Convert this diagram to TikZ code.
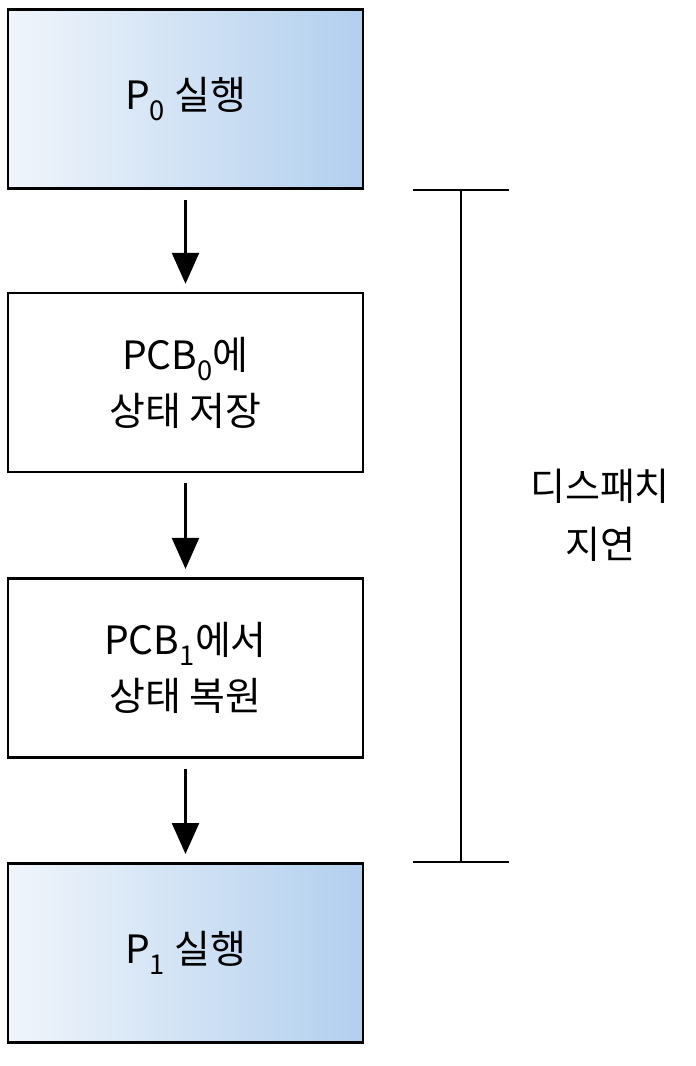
\documentclass[tikz,border=0pt]{standalone}
\usepackage{fontspec}
\setmainfont{Noto Sans CJK KR}
\usetikzlibrary{positioning,arrows.meta}

\definecolor{runleft}{HTML}{F0F5FB}
\definecolor{runright}{HTML}{B2CFEE}

\begin{document}
\begin{tikzpicture}
        [x=1pt,y=1pt,
          boxdecorate/.style={draw,line width=2.6pt,minimum width=355pt,
            minimum height=179pt,align=center,
            font=\fontsize{39}{56}\selectfont},%
          rundecorate/.style={boxdecorate,left color=runleft,right color=runright},%
          arrowdecorate/.style={line width=2.4pt,shorten <=10pt,shorten >=8pt,
            -{Triangle[width=27pt,length=31pt]}},%
          bardecorate/.style={-,line width=2.4pt}]
        \useasboundingbox (0,0) rectangle (696,-1066);
        %% boxes
        \node (p0run) at (185.5,-99) [rundecorate] {P\textsubscript{0} 실행};
        \node (save) [boxdecorate,below=102pt of p0run] {PCB\textsubscript{0}에\\상태 저장};
        \node (restore) [boxdecorate,below=103.5pt of save] {PCB\textsubscript{1}에서\\상태 복원};
        \node (p1run) [rundecorate,below=103.5pt of restore] {P\textsubscript{1} 실행};
        %% arrows
        \path
        \foreach \startnode/\endnode in {p0run/save, save/restore, restore/p1run}
        {
          (\startnode) edge[arrowdecorate] (\endnode)
        };
        %% dispatch latency bracket
        \coordinate (dtop) at (p0run.south -| 461,0);
        \coordinate (dbot) at (p1run.north -| 461,0);
        \draw[bardecorate] (dtop) -- (dbot);
        \draw[bardecorate] ([xshift=-48pt]dtop) -- ([xshift=48pt]dtop);
        \draw[bardecorate] ([xshift=-48pt]dbot) -- ([xshift=48pt]dbot);
        \node (latency) at (600,-515) [align=center,
          font=\fontsize{38}{58}\selectfont] {디스패치\\지연};
\end{tikzpicture}
\end{document}
